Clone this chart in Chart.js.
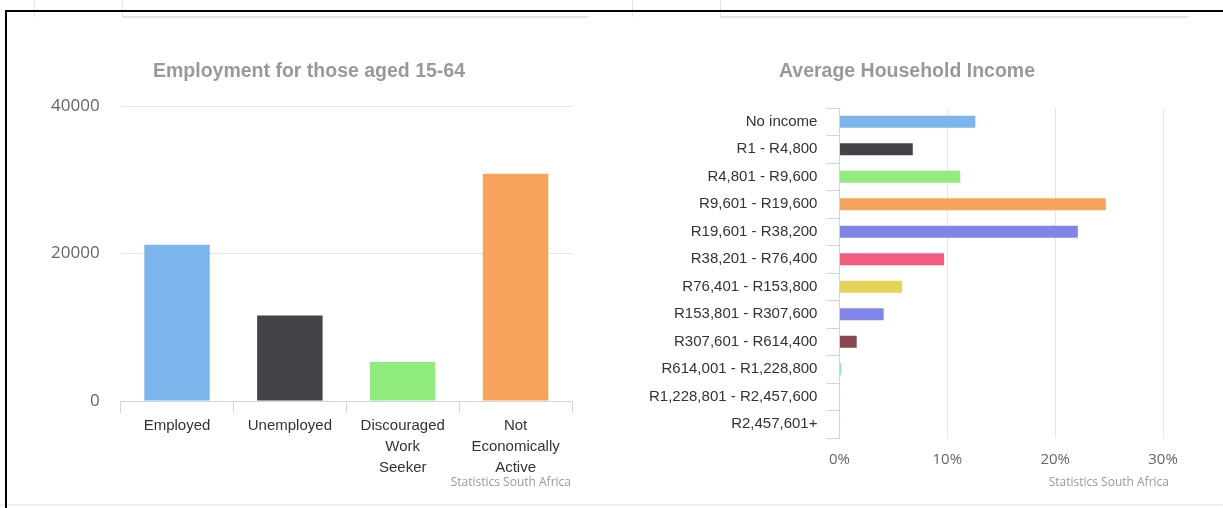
<!DOCTYPE html>
<html>
<head>
<meta charset="utf-8">
<script src="https://cdn.jsdelivr.net/npm/chart.js@4"></script>
<style>
  body { margin: 0; background: #fff; width: 1223px; height: 508px; overflow: hidden; position: relative; }
  .frame { position: absolute; left: 5px; top: 10px; width: 1230px; height: 520px; border-top: 2px solid #000; border-left: 2px solid #000; }
  .ln { position: absolute; background: #e3e3e3; }
  #left { position: absolute; left: 0; top: 0; }
  #right { position: absolute; left: 615px; top: 0; }
</style>
</head>
<body>
<div class="ln" style="left:34px;top:0;width:1px;height:17px"></div>
<div class="ln" style="left:122px;top:0;width:1px;height:17px"></div>
<div class="ln" style="left:122px;top:16px;width:466px;height:2px"></div>
<div class="ln" style="left:632px;top:0;width:1px;height:17px"></div>
<div class="ln" style="left:720px;top:0;width:1px;height:17px"></div>
<div class="ln" style="left:720px;top:16px;width:468px;height:2px"></div>
<div class="ln" style="left:0;top:504px;width:1223px;height:2px;background:#f0f0f0"></div>
<div class="frame"></div>
<canvas id="left" width="615" height="508"></canvas>
<canvas id="right" width="608" height="508"></canvas>
<script>
var empLabels = [["Employed"], ["Unemployed"], ["Discouraged", "Work", "Seeker"], ["Not", "Economically", "Active"]];
var empValues = [21200, 11600, 5300, 30800];
var empColors = ['#7cb5ec', '#434348', '#90ed7d', '#f7a35c'];

var incLabels = ["No income", "R1 - R4,800", "R4,801 - R9,600", "R9,601 - R19,600", "R19,601 - R38,200",
  "R38,201 - R76,400", "R76,401 - R153,800", "R153,801 - R307,600", "R307,601 - R614,400",
  "R614,001 - R1,228,800", "R1,228,801 - R2,457,600", "R2,457,601+"];
var incValues = [12.6, 6.8, 11.2, 24.7, 22.1, 9.7, 5.8, 4.1, 1.6, 0.2, 0, 0];
var incColors = ['#7cb5ec', '#434348', '#90ed7d', '#f7a35c', '#8085e9', '#f15c80', '#e4d354',
  '#8085e8', '#8d4653', '#91e8e1', '#7cb5ec', '#434348'];

// title and source line, drawn at fixed spots like the Highcharts original
const texts = {
  id: 'texts',
  afterDraw(chart, args, opts) {
    var ctx = chart.ctx;
    ctx.save();
    ctx.textBaseline = 'middle';
    ctx.font = 'bold 19.5px "Liberation Sans"';
    ctx.fillStyle = '#999';
    ctx.textAlign = 'center';
    ctx.fillText(opts.title, opts.titleX, 72);
    ctx.font = '12px "Open Sans"';
    ctx.textAlign = 'right';
    ctx.fillText('Statistics South Africa', opts.creditX, 483);
    ctx.restore();
  }
};

new Chart(document.getElementById('left'), {
  type: 'bar',
  data: {
    labels: empLabels,
    datasets: [{
      data: empValues,
      backgroundColor: empColors,
      barPercentage: 0.58,
      categoryPercentage: 1
    }]
  },
  options: {
    responsive: false,
    animation: false,
    layout: { padding: { left: 30, right: 43, top: 106, bottom: 28 } },
    plugins: {
      legend: { display: false },
      tooltip: { enabled: false },
      texts: { title: 'Employment for those aged 15-64', titleX: 309, creditX: 571 }
    },
    scales: {
      x: {
        grid: { drawOnChartArea: false, drawTicks: true, tickLength: 12, color: '#ccd6eb', offset: true },
        border: { color: '#ccd6eb' },
        ticks: { color: '#333', padding: 2, font: { family: 'Liberation Sans', size: 15, lineHeight: 1.4 }, maxRotation: 0, autoSkip: false }
      },
      y: {
        min: 0, max: 40000,
        grid: { drawTicks: false, color: (c) => c.tick && c.tick.value === 0 ? 'rgba(0,0,0,0)' : '#e6e6e6' },
        border: { display: false },
        ticks: { stepSize: 20000, color: '#666', padding: 21, font: { family: 'Open Sans', size: 17 }, callback: (v) => String(v) }
      }
    }
  },
  plugins: [texts]
});

new Chart(document.getElementById('right'), {
  type: 'bar',
  data: {
    labels: incLabels,
    datasets: [{
      data: incValues,
      backgroundColor: incColors,
      barPercentage: 0.43,
      categoryPercentage: 1
    }]
  },
  options: {
    indexAxis: 'y',
    responsive: false,
    animation: false,
    layout: { padding: { left: 25, right: 60, top: 108, bottom: 26 } },
    plugins: {
      legend: { display: false },
      tooltip: { enabled: false },
      texts: { title: 'Average Household Income', titleX: 292, creditX: 554 }
    },
    scales: {
      y: {
        grid: { drawOnChartArea: false, drawTicks: true, tickLength: 13, color: '#ccd6eb', offset: true },
        border: { color: '#ccd6eb' },
        ticks: { color: '#333', padding: 9, font: { family: 'Liberation Sans', size: 15 }, autoSkip: false }
      },
      x: {
        min: 0, max: 30,
        grid: { drawTicks: false, color: (c) => c.tick && c.tick.value === 0 ? 'rgba(0,0,0,0)' : '#e6e6e6' },
        border: { display: false },
        ticks: { stepSize: 10, color: '#666', padding: 13, font: { family: 'Open Sans', size: 15 }, callback: (v) => v + '%' }
      }
    }
  },
  plugins: [texts]
});
</script>
</body>
</html>
